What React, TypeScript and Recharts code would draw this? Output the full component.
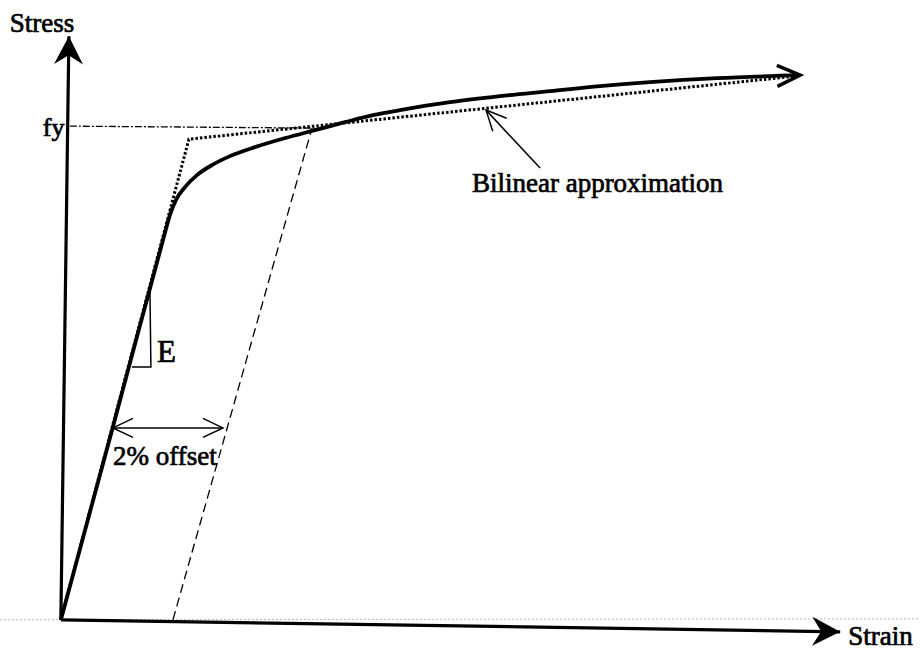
import React from 'react';
import { LineChart, Line, XAxis, YAxis, ReferenceDot } from 'recharts';

// strain / stress in arbitrary units (schematic diagram)
const stressStrain = [
    { x: 0, y: 0 }, { x: 6.67, y: 33.05 }, { x: 13.33, y: 66.27 }, { x: 13.97, y: 69.35 },
    { x: 14.74, y: 71.92 }, { x: 15.9, y: 74.14 }, { x: 17.44, y: 76.2 }, { x: 19.36, y: 77.91 },
    { x: 21.67, y: 79.45 }, { x: 24.87, y: 80.99 }, { x: 28.72, y: 82.53 }, { x: 32.56, y: 83.9 },
    { x: 36.41, y: 85.27 }, { x: 40.0, y: 86.47 }, { x: 43.46, y: 87.33 }, { x: 49.87, y: 88.7 },
    { x: 56.28, y: 89.73 }, { x: 62.69, y: 90.58 }, { x: 69.1, y: 91.44 }, { x: 75.51, y: 92.12 },
    { x: 84.1, y: 92.81 }, { x: 94.74, y: 93.32 },
];
const bilinear = [{ x: 0, y: 0 }, { x: 16.41, y: 82.36 }, { x: 94.1, y: 93.15 }];
const yieldLevel = [{ x: 1.15, y: 84.59 }, { x: 32.56, y: 84.25 }];
const offsetLine = [{ x: 14.36, y: 0 }, { x: 32.18, y: 84.25 }];
const stressAxis = [{ x: 0, y: 0 }, { x: 1.03, y: 100 }];
const strainAxis = [{ x: 0, y: 0 }, { x: 99.87, y: -2.05 }];
const offsetArrow = [{ x: 6.67, y: 32.88 }, { x: 20.77, y: 32.88 }];
const slopeTriangle = [{ x: 11.41, y: 56.85 }, { x: 11.54, y: 43.32 }, { x: 9.1, y: 43.32 }];
const pointer = [{ x: 61.41, y: 77.4 }, { x: 54.49, y: 87.33 }];
const scanEdge = [{ x: -7.8, y: 0 }, { x: 110.1, y: 0.17 }];

const labels = [
    { x: -6.54, y: 100.77, text: 'Stress', size: 27, anchor: 'start' },
    { x: -2.31, y: 82.88, text: 'fy', size: 26, anchor: 'start' },
    { x: 12.31, y: 44.18, text: 'E', size: 31, anchor: 'start' },
    { x: 6.67, y: 26.54, text: '2% offset', size: 27, anchor: 'start' },
    { x: 84.87, y: 73.29, text: 'Bilinear approximation', size: 27, anchor: 'end' },
    { x: 100.9, y: -4.28, text: 'Strain', size: 27, anchor: 'start' },
];

const FONT = '"Liberation Serif", "Times New Roman", serif';

const App: React.FC = () => {
    return (
        <div style={{ position: 'absolute', left: 0, top: 0, width: 920, height: 656, background: '#fff' }}>
            <LineChart width={920} height={656} margin={{ top: 0, right: 0, bottom: 0, left: 0 }}>
                <defs>
                    <marker id="axisHead" markerUnits="userSpaceOnUse" markerWidth={40} markerHeight={40}
                        viewBox="-34 -20 40 40" refX={0} refY={0} orient="auto" overflow="visible">
                        <path d="M0,0 L-28,-14.5 L-19,0 L-28,14.5 Z" fill="#000" />
                    </marker>
                    <marker id="curveHead" markerUnits="userSpaceOnUse" markerWidth={40} markerHeight={40}
                        viewBox="-30 -20 40 40" refX={0} refY={0} orient="auto" overflow="visible">
                        <path d="M-23,-10.5 L0,0 L-23,10.5" fill="none" stroke="#000" strokeWidth={3.5} />
                    </marker>
                    <marker id="thinHead" markerUnits="userSpaceOnUse" markerWidth={30} markerHeight={30}
                        viewBox="-25 -15 30 30" refX={0} refY={0} orient="auto-start-reverse" overflow="visible">
                        <path d="M-20,-9.5 L0,0 L-20,9.5" fill="none" stroke="#000" strokeWidth={1.5} />
                    </marker>
                </defs>
                <XAxis type="number" dataKey="x" domain={[-7.8, 110.1]} allowDataOverflow hide />
                <YAxis type="number" dataKey="y" domain={[-6.2, 106.2]} allowDataOverflow hide />

                <Line data={scanEdge} dataKey="y" type="linear" stroke="#b8b8b8" strokeWidth={1}
                    strokeDasharray="2 2" dot={false} activeDot={false} isAnimationActive={false} />
                <Line data={yieldLevel} dataKey="y" type="linear" stroke="#000" strokeWidth={1.3}
                    strokeDasharray="7 2 2 2" dot={false} activeDot={false} isAnimationActive={false} />
                <Line data={offsetLine} dataKey="y" type="linear" stroke="#000" strokeWidth={1.3}
                    strokeDasharray="9 5" dot={false} activeDot={false} isAnimationActive={false} />
                <Line data={stressStrain} dataKey="y" type="monotone" stroke="#000" strokeWidth={3.8}
                    markerEnd="url(#curveHead)" dot={false} activeDot={false} isAnimationActive={false} />
                <Line data={bilinear} dataKey="y" type="linear" stroke="#000" strokeWidth={3}
                    strokeDasharray="2.5 2" dot={false} activeDot={false} isAnimationActive={false} />
                <Line data={stressAxis} dataKey="y" type="linear" stroke="#000" strokeWidth={3.2}
                    markerEnd="url(#axisHead)" dot={false} activeDot={false} isAnimationActive={false} />
                <Line data={strainAxis} dataKey="y" type="linear" stroke="#000" strokeWidth={3.2}
                    markerEnd="url(#axisHead)" dot={false} activeDot={false} isAnimationActive={false} />
                <Line data={offsetArrow} dataKey="y" type="linear" stroke="#000" strokeWidth={1.5}
                    markerStart="url(#thinHead)" markerEnd="url(#thinHead)"
                    dot={false} activeDot={false} isAnimationActive={false} />
                <Line data={slopeTriangle} dataKey="y" type="linear" stroke="#000" strokeWidth={1.5}
                    dot={false} activeDot={false} isAnimationActive={false} />
                <Line data={pointer} dataKey="y" type="linear" stroke="#000" strokeWidth={1.5}
                    markerEnd="url(#thinHead)" dot={false} activeDot={false} isAnimationActive={false} />

                {labels.map((l) => (
                    <ReferenceDot key={l.text} x={l.x} y={l.y} r={0}
                        shape={(p: any) => (
                            <text x={p.cx} y={p.cy} textAnchor={l.anchor} fontFamily={FONT}
                                fontSize={l.size} fill="#000" stroke="#000" strokeWidth={0.7}>
                                {l.text}
                            </text>
                        )}
                    />
                ))}
            </LineChart>
        </div>
    );
};

export default App;
